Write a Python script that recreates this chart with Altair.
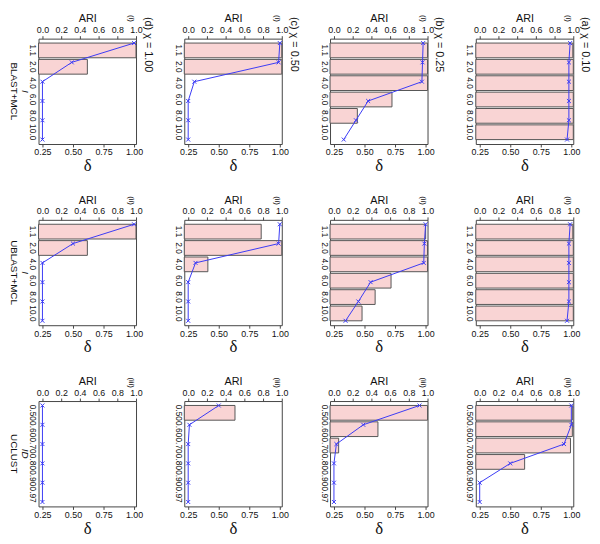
import altair as alt
import pandas as pd

# ---------------- data ----------------
CATS_MCL = ["1.1", "2.0", "4.0", "6.0", "8.0", "10.0"]
CATS_UCLUST = ["0.50", "0.60", "0.70", "0.80", "0.90", "0.97"]

CHI_LABELS = ["(d) χ = 1.00", "(c) χ = 0.50", "(b) χ = 0.25", "(a) χ = 0.10"]
ROW_ROMAN = ["(i)", "(ii)", "(iii)"]
ROW_METHOD = ["BLAST+MCL", "UBLAST+MCL", "UCLUST"]
ROW_PARAM = ["I", "I", "ID"]

# columns: chi = 1.00, 0.50, 0.25, 0.10
ARI_BLAST = [
    [1.00, 0.48, 0, 0, 0, 0],
    [1.00, 1.00, 0, 0, 0, 0],
    [1.00, 1.00, 1.00, 0.62, 0.25, 0],
    [0.995, 1.00, 1.00, 1.00, 1.00, 1.00],
]
DELTA_BLAST = [
    [1.00, 0.49, 0.25, 0.25, 0.25, 0.25],
    [1.00, 0.99, 0.30, 0.25, 0.25, 0.25],
    [0.98, 0.975, 0.97, 0.53, 0.43, 0.33],
    [0.99, 0.98, 0.98, 0.98, 0.98, 0.965],
]
ARI_UBLAST = [
    [1.00, 0.48, 0, 0, 0, 0],
    [0.78, 1.00, 0.21, 0, 0, 0],
    [0.98, 1.00, 1.00, 0.61, 0.44, 0.30],
    [0.995, 1.00, 1.00, 1.00, 1.00, 1.00],
]
DELTA_UBLAST = [
    [1.00, 0.50, 0.25, 0.25, 0.25, 0.25],
    [1.00, 0.99, 0.31, 0.25, 0.25, 0.25],
    [1.00, 0.99, 0.985, 0.55, 0.45, 0.345],
    [0.99, 0.98, 0.98, 0.98, 0.98, 0.965],
]
ARI_UCLUST = [
    [0, 0, 0, 0, 0, 0],
    [0.50, 0, 0, 0, 0, 0],
    [1.00, 0.47, 0.05, 0, 0, 0],
    [0.99, 0.99, 0.97, 0.48, 0, 0],
]
DELTA_UCLUST = [
    [0.25, 0.25, 0.25, 0.25, 0.25, 0.25],
    [0.50, 0.26, 0.25, 0.25, 0.25, 0.25],
    [0.95, 0.49, 0.27, 0.25, 0.25, 0.25],
    [1.00, 1.00, 0.94, 0.50, 0.25, 0.25],
]

ROWS = [
    (CATS_MCL, ARI_BLAST, DELTA_BLAST),
    (CATS_MCL, ARI_UBLAST, DELTA_UBLAST),
    (CATS_UCLUST, ARI_UCLUST, DELTA_UCLUST),
]

ARI_TICKS = [0.0, 0.2, 0.4, 0.6, 0.8, 1.0]
DELTA_TICKS = [0.25, 0.50, 0.75, 1.00]

# ---------------- style ----------------
W, H = 99, 107
ARI_DOM = [-0.042, 1.0]
DELTA_DOM = [0.218, 1.016]
FONT = "Liberation Sans"
TXT = "#111111"
AX = "#444444"
BAR_FILL = "#f9d4d4"
BAR_STROKE = "#555555"
BLUE = "#3a3af5"
XPATH = "M-1,-1L1,1M-1,1L1,-1"


def text_layer(label, x, y, size, align="left", style="normal"):
    return alt.Chart(pd.DataFrame({"t": [label]})).mark_text(
        angle=90, align=align, baseline="middle", fontSize=size,
        font=FONT, color=TXT, fontStyle=style
    ).encode(x=alt.value(x), y=alt.value(y), text="t:N")


def panel(r, c):
    cats, ari_all, delta_all = ROWS[r]
    df = pd.DataFrame({
        "cat": cats,
        "idx": list(range(len(cats))),
        "ARI": ari_all[c],
        "delta": delta_all[c],
    })
    base = alt.Chart(df)
    bars = base.transform_filter("datum.ARI > 0").mark_bar(
        fill=BAR_FILL, stroke=BAR_STROKE, strokeWidth=1
    ).encode(
        x=alt.X("ARI:Q",
                scale=alt.Scale(domain=ARI_DOM, nice=False, zero=False),
                axis=alt.Axis(orient="top", title="ARI", values=ARI_TICKS,
                              format=".1f", tickSize=3, labelPadding=1,
                              titlePadding=2, domain=False, grid=False,
                              labelFlush=False, labelOverlap=False,
                              labelFontSize=9, titleFontSize=11)),
        x2=alt.datum(ARI_DOM[0]),
        y=alt.Y("cat:N", sort=cats,
                scale=alt.Scale(domain=cats, paddingInner=0.1, paddingOuter=0.27),
                axis=alt.Axis(title=None, labelAngle=90, labelAlign="center",
                              labelBaseline="top", ticks=False, tickSize=0,
                              labelPadding=2, domain=False, grid=False,
                              labelOverlap=False, labelFontSize=8.5)),
    )
    line = base.mark_line(
        color=BLUE, strokeWidth=1,
        point=alt.OverlayMarkDef(shape=XPATH, size=16, filled=False,
                                 color=BLUE, strokeWidth=1),
    ).encode(
        x=alt.X("delta:Q",
                scale=alt.Scale(domain=DELTA_DOM, nice=False, zero=False),
                axis=alt.Axis(orient="bottom", title="δ", values=DELTA_TICKS,
                              format=".2f", tickSize=3, labelPadding=1,
                              titlePadding=1, domain=False, grid=False,
                              labelFlush=False, labelOverlap=False,
                              labelFontSize=9,
                              titleFont="Liberation Serif", titleFontSize=17)),
        y=alt.Y("cat:N", scale=alt.Scale(type="point", domain=cats, padding=0.23),
                axis=None),
        order="idx:Q",
    )
    layers = [bars, line, text_layer(ROW_ROMAN[r], W - 5, -24, 8)]
    if r == 0:
        layers.append(text_layer(CHI_LABELS[c], W + 12, -22, 11))
    if c == 0:
        layers.append(text_layer(ROW_METHOD[r], -25, H / 2, 10, align="center"))
        layers.append(text_layer(ROW_PARAM[r], -14, H / 2, 10, align="center",
                                 style="italic"))
    return alt.layer(*layers).resolve_scale(
        x="independent", y="independent"
    ).properties(width=W, height=H)


panels = [panel(r, c) for r in range(3) for c in range(4)]

chart = alt.concat(
    *panels, columns=4, spacing={"row": 77, "column": 49}, bounds="flush"
).properties(
    padding={"left": 0, "top": 0, "right": 0, "bottom": 0}
).configure_view(
    stroke=AX, strokeWidth=1
).configure_axis(
    labelFont=FONT, labelFontSize=8, labelColor=TXT,
    titleFont=FONT, titleFontSize=10, titleColor=TXT, titleFontWeight="normal",
    tickColor=AX, tickWidth=1
)

chart.save("out.html", embed_options={"renderer": "svg", "actions": False})
